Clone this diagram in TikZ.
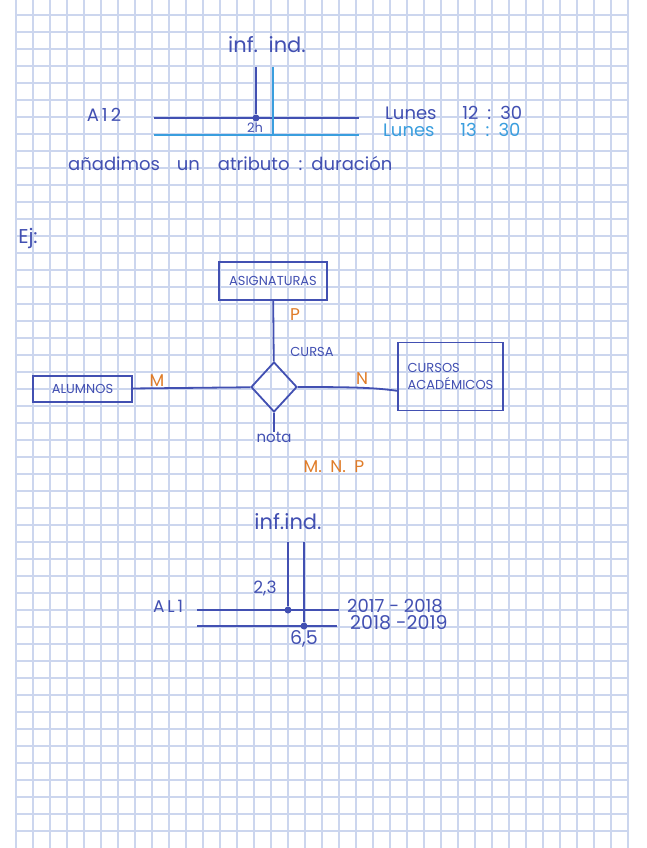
\documentclass[tikz,border=0pt]{standalone}
\usepackage{fontspec}
\setmainfont{Poppins}
\usetikzlibrary{positioning,shapes.geometric}
\definecolor{ink}{RGB}{66,80,178}
\definecolor{inklight}{RGB}{58,158,222}
\definecolor{cardcol}{RGB}{224,124,40}
\definecolor{gridblue}{RGB}{204,214,238}

\begin{document}
\begin{tikzpicture}[x=1pt,y=-1pt,
  gridline/.style={draw=gridblue, line width=1.1pt},
  pen/.style={draw=ink, line width=1.8pt},
  penlight/.style={draw=inklight, line width=1.6pt},
  hand/.style={text=ink, inner sep=0pt, font=\fontsize{15}{17}\selectfont},
  handlight/.style={hand, text=inklight},
  cardlbl/.style={inner sep=0pt, text=cardcol, font=\fontsize{17}{19}\selectfont},
  entity/.style={pen, rectangle, inner sep=0pt, text=ink, font=\fontsize{13}{17}\selectfont},
  relation/.style={pen, diamond, inner sep=0pt, minimum width=46pt, minimum height=50pt},
  dot/.style={circle, fill=ink, inner sep=0pt, minimum size=7pt},
]
\fill[white] (0,0) rectangle (646,848);
\useasboundingbox (0,0) rectangle (646,848);

% cuadricula
\foreach \gx in {0,...,36}{ \draw[gridline] (16+17*\gx,0) -- (16+17*\gx,848); }
\foreach \gy in {1,...,49}{ \draw[gridline] (16,-2+17*\gy) -- (628,-2+17*\gy); }

% --- A12, dos franjas horarias
\node[hand, font=\fontsize{21}{23}\selectfont] (infA) at (267,45) {inf.\enspace ind.};
\coordinate (vA1) at (256,67);
\coordinate (vA2) at (273,67);
\node[dot] (dA) at (256,118) {};
\coordinate (hA1l) at (154,118);
\coordinate (hA1r) at (359,118);
\coordinate (hA2l) at (154,135);
\coordinate (hA2r) at (359,135);
\coordinate (vA2e) at (273,135);
\draw[pen] (vA1) -- (dA);
\draw[pen] (hA1l) -- (hA1r);
\draw[penlight] (vA2) -- (vA2e);
\draw[penlight] (hA2l) -- (hA2r);
\node[hand, font=\fontsize{13}{15}\selectfont] (durA) at (255,128) {2h};
\node[hand, font=\fontsize{18}{20}\selectfont] (aula12) at (104,115) {A\,1\,2};
\node[hand, font=\fontsize{18}{20}\selectfont, anchor=west] (lun1) at (385,113) {Lunes\quad\, 12\enspace:\enspace30};
\node[handlight, font=\fontsize{18}{20}\selectfont, anchor=west] (lun2) at (383,130) {Lunes\quad\, 13\enspace:\enspace30};
\node[hand, font=\fontsize{18}{20}\selectfont, anchor=west] (nota1) at (68,163) {añadimos\enspace\, un\quad atributo\enspace:\enspace duración};

% --- ejemplo ternaria
\node[hand, font=\fontsize{20}{22}\selectfont] (ej) at (28,238) {Ej:};
\node[entity, minimum width=108pt, minimum height=38pt] (asig) at (273,281) {ASIGNATURAS};
\node[entity, minimum width=99pt, minimum height=26pt] (alum) at (82.5,389) {ALUMNOS};
\node[entity, minimum width=105pt, minimum height=68pt, align=left] (cursos) at (450.5,376.5) {CURSOS\\ACADÉMICOS};
\node[relation] (cursa) at (274,387) {};
\node[hand, font=\fontsize{13}{15}\selectfont] (cursaLbl) at (312,352) {CURSA};
\node[hand] (notaAt) at (274,437) {nota};
\draw[pen] (asig) -- (cursa);
\draw[pen] (alum) -- (cursa);
\draw[pen] (cursa.east) .. controls +(60,0) and +(-22,-3) .. (cursos.195);
\draw[pen] (cursa.south) -- (notaAt.north);
\node[cardlbl] (cP) at (295,315) {P};
\node[cardlbl] (cM) at (157,381) {M};
\node[cardlbl] (cN) at (362,379) {N};
\node[cardlbl] (cMNP) at (334,467) {M.\enspace N.\enspace P};

% --- AL1, dos cursos
\node[hand, font=\fontsize{21}{23}\selectfont] (infB) at (288,522) {inf.ind.};
\coordinate (vB1) at (288,542);
\coordinate (vB2) at (304,542);
\node[dot] (dB1) at (288,610) {};
\node[dot] (dB2) at (304,626) {};
\coordinate (hB1l) at (197,610);
\coordinate (hB1r) at (339,610);
\coordinate (hB2l) at (197,626);
\coordinate (hB2r) at (337,626);
\draw[pen] (vB1) -- (dB1);
\draw[pen] (vB2) -- (dB2);
\draw[pen] (hB1l) -- (hB1r);
\draw[pen] (hB2l) -- (hB2r);
\node[hand, font=\fontsize{17}{19}\selectfont] (v23) at (265,588) {2,3};
\node[hand, font=\fontsize{19}{21}\selectfont] (v65) at (304,639) {6,5};
\node[hand, font=\fontsize{17}{19}\selectfont] (aula1) at (168,606) {A\,L\,1};
\node[hand, font=\fontsize{18}{20}\selectfont, anchor=west] (cur1) at (347,606) {2017 - 2018};
\node[hand, font=\fontsize{19}{21}\selectfont, anchor=west] (cur2) at (350,623) {2018 -2019};
\end{tikzpicture}
\end{document}
